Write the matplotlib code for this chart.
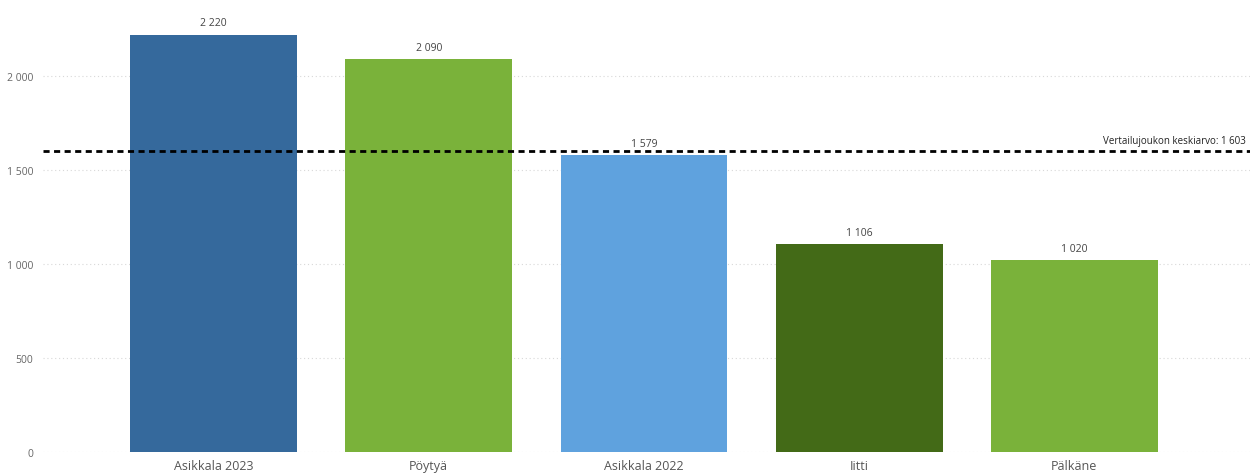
import numpy as np
import matplotlib as mpl
import matplotlib.pyplot as plt
mpl.use('agg')

# data
categories = ["Asikkala 2023", "Pöytyä", "Asikkala 2022", "Iitti", "Pälkäne"]
values = [2220, 2090, 1579, 1106, 1020]
bar_colors = ['#35699c', '#7ab23a', '#5fa2de', '#436a17', '#7ab23a']
avg_value = 1603
avg_label = "Vertailujoukon keskiarvo: "
yticks = [0, 500, 1000, 1500, 2000]


def fmt(v):
    return f"{v:,}".replace(",", " ")


plt.rcParams['font.family'] = ['Open Sans', 'DejaVu Sans']

fig = plt.figure(figsize=(12.55, 4.77), dpi=100)
ax = fig.add_axes([0.0343, 0.0495, 0.9617, 0.925])

x = np.arange(len(categories))
bars = ax.bar(x, values, width=0.775, color=bar_colors, zorder=2)

for xi, v in zip(x, values):
    ax.text(xi, v + 35, fmt(v), ha='center', va='bottom', fontsize=7.5, color='#444444')

ax.axhline(avg_value, color='black', linestyle=(0, (2.2, 1.6)), linewidth=2.0, zorder=3)
ax.text(0.997, avg_value + 25, avg_label + fmt(avg_value), transform=ax.get_yaxis_transform(),
        ha='right', va='bottom', fontsize=7, color='#222222')

ax.set_xlim(-0.792, 4.816)
ax.set_ylim(0, 2345)
ax.set_yticks(yticks)
ax.set_yticklabels([fmt(t) for t in yticks])
ax.set_xticks(x)
ax.set_xticklabels(categories)

ax.grid(axis='y', linestyle=(0, (1, 2.5)), color='#d8d8d8', linewidth=0.8, zorder=0)
for s in ax.spines.values():
    s.set_visible(False)
ax.tick_params(axis='y', length=0, pad=7, labelsize=7.5, labelcolor='#666666')
ax.tick_params(axis='x', length=0, pad=5, labelsize=9, labelcolor='#555555')

fig.savefig('out.png', dpi=100)
